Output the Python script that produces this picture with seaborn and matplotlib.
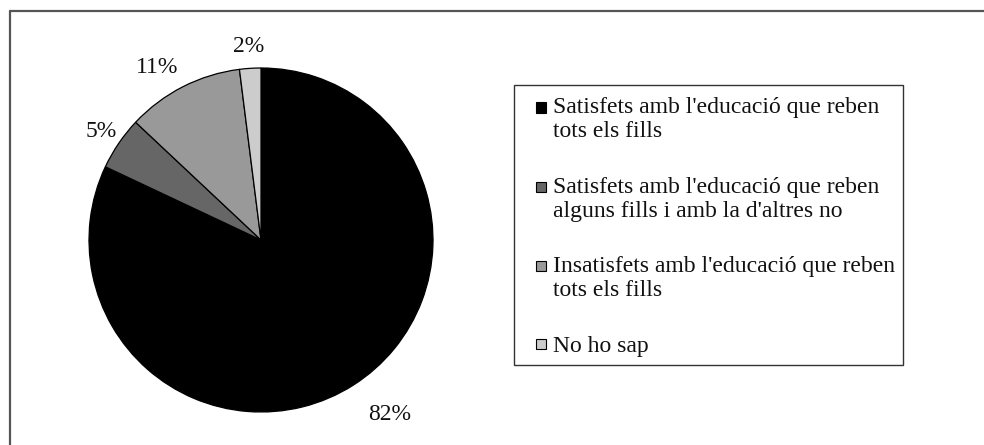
import numpy as np
import matplotlib
matplotlib.use("Agg")
import matplotlib.pyplot as plt
import seaborn as sns
from matplotlib.lines import Line2D
from matplotlib.patches import Rectangle

categories = [
    "Satisfets amb l'educació que reben\ntots els fills",
    "Satisfets amb l'educació que reben\nalguns fills i amb la d'altres no",
    "Insatisfets amb l'educació que reben\ntots els fills",
    "No ho sap",
]
values = [82, 5, 11, 2]
pct_labels = ["82%", "5%", "11%", "2%"]
colors = ["#000000", "#666666", "#999999", "#cccccc"]

sns.set_theme(style="white")
plt.rcParams["font.family"] = ["Liberation Serif", "DejaVu Serif"]

FS = 17
W, H = 984, 445
fig = plt.figure(figsize=(W / 100, H / 100), dpi=100)
fig.patch.set_facecolor("white")

cx, cy, r = 261, 240, 172
ax = fig.add_axes([(cx - r) / W, (H - cy - r) / H, 2 * r / W, 2 * r / H])
wedges, texts = ax.pie(
    values,
    colors=colors,
    startangle=90,
    counterclock=False,
    labels=pct_labels,
    labeldistance=1.13,
    wedgeprops=dict(edgecolor="black", linewidth=0.9),
    textprops=dict(fontsize=FS, color="#111111"),
)
# label placement (distance from centre / small angular tweak), as in the reference
label_dist = [1.26, 1.12, 1.17, 1.13]
label_dang = [4, 0, 4, 0]
for w, t, d, da in zip(wedges, texts, label_dist, label_dang):
    mid = np.deg2rad(0.5 * (w.theta1 + w.theta2) + da)
    t.set_position((d * np.cos(mid), d * np.sin(mid)))
    t.set_ha("center")
    t.set_va("center")
ax.set_xlim(-1, 1)
ax.set_ylim(-1, 1)
ax.set_aspect("equal")
ax.axis("off")


class TopSquare:
    """Small square legend key, aligned with the first line of the label."""

    def __init__(self, nlines):
        self.nlines = nlines

    def legend_artist(self, legend, orig_handle, fontsize, handlebox):
        s = 7.4  # points
        line_pitch = 17.6  # points between text lines
        w = handlebox.width
        h = handlebox.height
        yc = h / 2 + 0.5 * (self.nlines - 1) * line_pitch
        p = Rectangle(
            (w - s, yc - s / 2), s, s,
            facecolor=orig_handle.get_facecolor(),
            edgecolor="black", linewidth=0.8,
            transform=handlebox.get_transform(),
        )
        handlebox.add_artist(p)
        return p


hmap = {wd: TopSquare(lab.count("\n") + 1) for wd, lab in zip(wedges, categories)}

leg = fig.legend(
    wedges,
    categories,
    handler_map=hmap,
    loc="upper left",
    bbox_to_anchor=(514 / W, 1 - 85 / H),
    frameon=True,
    fancybox=False,
    edgecolor="black",
    fontsize=FS,
    title=" ",
    title_fontsize=2.5,
    handlelength=1.0,
    handleheight=0.7,
    handletextpad=0.3,
    labelspacing=1.45,
    borderpad=0.35,
    borderaxespad=0,
)
# tiny blank title only adds a few pixels of extra top padding
try:
    leg._legend_box.sep = 0
except Exception:
    pass
leg.get_frame().set_linewidth(1.0)
for t in leg.get_texts():
    t.set_color("#111111")

# outer frame (top and left edges visible)
fig.add_artist(Line2D([10 / W, 1.0], [1 - 11 / H, 1 - 11 / H], color="#555555", lw=1.6))
fig.add_artist(Line2D([10 / W, 10 / W], [1 - 11 / H, 0.0], color="#555555", lw=1.6))

fig.savefig("out.png", dpi=100, facecolor="white")
